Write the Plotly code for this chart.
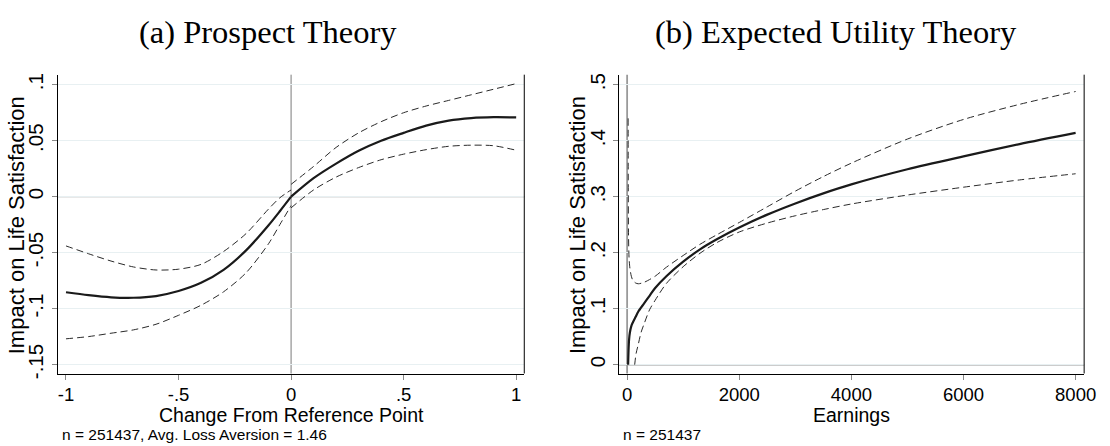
import plotly.graph_objects as go

# ---------------- data: (a) Prospect Theory ----------------
pt_x_loss = [-1.0, -0.9, -0.8, -0.7, -0.6, -0.5, -0.4, -0.3, -0.2, -0.1, -0.05, 0.0]
pt_est_loss = [-0.0854, -0.0880, -0.0899, -0.0903, -0.0888, -0.0843, -0.0770, -0.0654, -0.0480, -0.0255, -0.0130, 0.0]
pt_hi_loss = [-0.0440, -0.0510, -0.0575, -0.0628, -0.0655, -0.0648, -0.0605, -0.0490, -0.0330, -0.0110, -0.0010, 0.0060]
pt_lo_loss = [-0.1270, -0.1250, -0.1220, -0.1190, -0.1140, -0.1060, -0.0970, -0.0850, -0.0680, -0.0420, -0.0250, -0.0080]

pt_x_gain = [0.0, 0.1, 0.2, 0.3, 0.4, 0.5, 0.6, 0.7, 0.8, 0.9, 1.0]
pt_est_gain = [0.0, 0.0165, 0.0295, 0.0410, 0.0500, 0.0570, 0.0635, 0.0680, 0.0702, 0.0710, 0.0708]
pt_hi_gain = [0.0110, 0.0270, 0.0440, 0.0570, 0.0670, 0.0750, 0.0810, 0.0860, 0.0910, 0.0960, 0.1010]
pt_lo_gain = [-0.0100, 0.0060, 0.0175, 0.0260, 0.0330, 0.0380, 0.0420, 0.0450, 0.0460, 0.0455, 0.0415]

pt_xticks = [-1, -0.5, 0, 0.5, 1]
pt_xticklabels = ["-1", "-.5", "0", ".5", "1"]
pt_yticks = [-0.15, -0.1, -0.05, 0, 0.05, 0.1]
pt_yticklabels = ["-.15", "-.1", "-.05", "0", ".05", ".1"]

# ---------------- data: (b) Expected Utility Theory ----------------
eu_x = [18, 25, 35, 50, 75, 100, 150, 200, 300, 400, 500, 700, 1000, 1300, 1600,
        2000, 2500, 3000, 3500, 4000, 5000, 6000, 7000, 8000]
eu_est = [0.0, 0.025, 0.045, 0.058, 0.069, 0.075, 0.085, 0.095, 0.109, 0.123, 0.137, 0.158,
          0.184, 0.206, 0.224, 0.245, 0.268, 0.288, 0.306, 0.322, 0.349, 0.372, 0.394, 0.414]

eu_x_hi = [18, 20, 25, 35, 50, 75, 100, 150, 200, 300, 400, 500, 700, 1000, 1300, 1600,
           2000, 2500, 3000, 3500, 4000, 5000, 6000, 7000, 8000]
eu_hi = [0.440, 0.330, 0.230, 0.190, 0.172, 0.158, 0.151, 0.146, 0.1445, 0.147, 0.152, 0.158,
         0.174, 0.195, 0.215, 0.232, 0.254, 0.282, 0.310, 0.336, 0.360, 0.403, 0.438, 0.465, 0.488]

eu_x_lo = [135, 160, 194, 250, 300, 400, 500, 700, 1000, 1300, 1600, 2000, 2500, 3000,
           3500, 4000, 5000, 6000, 7000, 8000]
eu_lo = [0.0, 0.020, 0.034, 0.058, 0.072, 0.098, 0.115, 0.145, 0.175, 0.199, 0.218, 0.237,
         0.253, 0.266, 0.277, 0.287, 0.303, 0.317, 0.330, 0.341]

eu_xticks = [0, 2000, 4000, 6000, 8000]
eu_xticklabels = ["0", "2000", "4000", "6000", "8000"]
eu_yticks = [0, 0.1, 0.2, 0.3, 0.4, 0.5]
eu_yticklabels = ["0", ".1", ".2", ".3", ".4", ".5"]

titles = ["(a) Prospect Theory", "(b) Expected Utility Theory"]
x_titles = ["Change From Reference Point", "Earnings"]
y_title = "Impact on Life Satisfaction"
notes = ["n = 251437, Avg. Loss Aversion = 1.46", "n = 251437"]

# ---------------- figure ----------------
W, H = 1110, 446
SANS = "Liberation Sans, Arial, sans-serif"
SERIF = "Liberation Serif, Times New Roman, serif"

fig = go.Figure()

solid = dict(color="#1a1a1a", width=2.2, shape="spline", smoothing=0.8)
dashed = dict(color="#2a2a2a", width=1, dash="7px,4px", shape="spline", smoothing=0.8)

for xs, ys, st in [
    (pt_x_loss, pt_hi_loss, dashed), (pt_x_loss, pt_lo_loss, dashed), (pt_x_loss, pt_est_loss, solid),
    (pt_x_gain, pt_hi_gain, dashed), (pt_x_gain, pt_lo_gain, dashed), (pt_x_gain, pt_est_gain, solid),
]:
    fig.add_trace(go.Scatter(x=xs, y=ys, mode="lines", line=st, xaxis="x", yaxis="y",
                             showlegend=False, hoverinfo="skip"))

for xs, ys, st in [(eu_x_hi, eu_hi, dashed), (eu_x_lo, eu_lo, dashed), (eu_x, eu_est, solid)]:
    fig.add_trace(go.Scatter(x=xs, y=ys, mode="lines", line=st, xaxis="x2", yaxis="y2",
                             showlegend=False, hoverinfo="skip"))

def px_x(p):
    return p / W

def px_y(p):
    return 1 - p / H

ydom = [px_y(378.3), px_y(74)]
common_x = dict(ticks="outside", ticklen=5, tickcolor="#888888", tickwidth=1,
                showline=True, linecolor="#000000", linewidth=1, showgrid=False,
                zeroline=False, tickfont=dict(family=SANS, size=18.5, color="#000"),
                tickmode="array", ticklabelstandoff=-1)
common_y = dict(ticks="outside", ticklen=5, tickcolor="#888888", tickwidth=1,
                showline=True, linecolor="#000000", linewidth=1, showgrid=True,
                gridcolor="#E8F0F2", gridwidth=1, zeroline=False, tickangle=-90,
                tickfont=dict(family=SANS, size=20.5, color="#000"), tickmode="array")

fig.update_layout(
    width=W, height=H, margin=dict(l=0, r=0, t=0, b=0),
    paper_bgcolor="white", plot_bgcolor="white", showlegend=False,
    xaxis=dict(common_x, domain=[px_x(58.3), px_x(530)], range=[-1.037, 1.036],
               tickvals=pt_xticks, ticktext=pt_xticklabels, anchor="y"),
    yaxis=dict(common_y, domain=ydom, range=[-0.158, 0.109], tickvals=pt_yticks,
               ticktext=pt_yticklabels, anchor="x"),
    xaxis2=dict(common_x, domain=[px_x(625.7), px_x(1096)], range=[-146, 8152],
                tickvals=eu_xticks, ticktext=eu_xticklabels, anchor="y2"),
    yaxis2=dict(common_y, domain=ydom, range=[-0.0158, 0.518], tickvals=eu_yticks,
                ticktext=eu_yticklabels, anchor="x2"),
)

shapes = []
# right borders
for xr, yr in [("x", "y"), ("x2", "y2")]:
    shapes.append(dict(type="line", xref=f"{xr} domain", yref=f"{yr} domain", x0=1, x1=1, y0=0, y1=1,
                       line=dict(color="#000", width=1)))
# reference lines left panel
shapes.append(dict(type="line", xref="x", yref="y domain", x0=0, x1=0, y0=0, y1=1,
                   line=dict(color="#7a7a7a", width=1), layer="below"))
shapes.append(dict(type="line", xref="x domain", yref="y", x0=0, x1=1, y0=0, y1=0,
                   line=dict(color="#7a7a7a", width=1), layer="below"))
# reference lines right panel
shapes.append(dict(type="line", xref="x2", yref="y2 domain", x0=0, x1=0, y0=0, y1=1,
                   line=dict(color="#9a9a9a", width=1.8), layer="below"))
shapes.append(dict(type="line", xref="x2 domain", yref="y2", x0=0, x1=1, y0=0, y1=0,
                   line=dict(color="#9a9a9a", width=1.5), layer="below"))
fig.update_layout(shapes=shapes)

ann = []
for t, cx in zip(titles, [271, 845]):
    ann.append(dict(text=t, x=px_x(cx), y=px_y(31), xref="paper", yref="paper",
                    xanchor="center", yanchor="middle", showarrow=False,
                    font=dict(family=SERIF, size=32.5, color="#000")))
for t, lx in zip(notes, [61, 628]):
    ann.append(dict(text=t, x=px_x(lx), y=px_y(440), xref="paper", yref="paper",
                    xanchor="left", yanchor="middle", showarrow=False,
                    font=dict(family=SANS, size=15.5, color="#000")))
# axis titles
for t, cx in zip(x_titles, [294.2, 860.9]):
    ann.append(dict(text=t, x=px_x(cx), y=px_y(421), xref="paper", yref="paper",
                    xanchor="center", yanchor="middle", showarrow=False,
                    font=dict(family=SANS, size=19.5, color="#000")))
for cx in [17.5, 584.5]:
    ann.append(dict(text=y_title, x=px_x(cx), y=px_y(227), xref="paper", yref="paper",
                    xanchor="center", yanchor="middle", showarrow=False, textangle=-90,
                    font=dict(family=SANS, size=22, color="#000")))
fig.update_layout(annotations=ann)

fig.write_html("out.html")
